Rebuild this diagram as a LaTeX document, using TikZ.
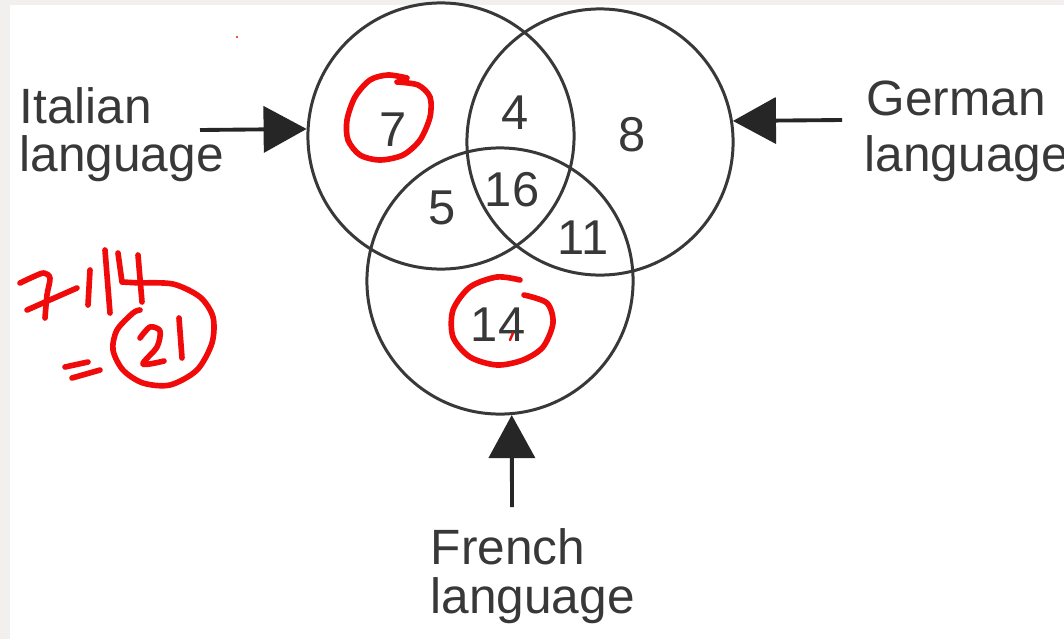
\documentclass[tikz,border=0pt]{standalone}
\usepackage{fontspec}
\setmainfont{Liberation Sans}
\usetikzlibrary{arrows.meta}
\definecolor{ink}{HTML}{383838}
\definecolor{pen}{HTML}{F00A0A}
\definecolor{strip}{HTML}{F1F0EE}
\tikzset{
  setcircle/.style={circle, draw=ink, line width=0.85pt, minimum size=2.66cm, inner sep=0pt},
  num/.style={text=ink, inner sep=0pt, font=\fontsize{13.9}{14}\selectfont},
  lab/.style={text=ink, inner sep=0pt, anchor=base west, font=\fontsize{14.1}{14}\selectfont},
  pointer/.style={draw=black!85, line width=1.1pt, -{Triangle[length=0.43cm, width=0.46cm]}},
  handink/.style={draw=pen, line width=1.6pt, line cap=round, line join=round}
}
\begin{document}
\begin{tikzpicture}[x=0.01cm, y=-0.01cm]
\useasboundingbox (0,0) rectangle (1064,639);
\clip (0,0) rectangle (1064,639);
\fill[white] (0,0) rectangle (1064,639);
\fill[strip] (0,0) rectangle (1064,5);
\fill[strip] (0,0) rectangle (10,639);

% circles
\node[setcircle] (italian) at (441,136) {};
\node[setcircle] (german) at (600,142) {};
\node[setcircle] (french) at (500,281) {};

% numbers
\node[num] (n7) at (393,130) {7};
\node[num] (n4) at (515,113) {4};
\node[num] (n8) at (632,135) {8};
\node[num] (n5) at (442,208) {5};
\node[num] (n16) at (512,190) {16};
\node[num] (n11) at (583,238) {11};
\node[num] (n14) at (498,325) {14};

% labels
\node[lab] (itl1) at (19,123) {Italian};
\node[lab] (itl2) at (19,171) {language};
\node[lab] (gel1) at (866,115) {German};
\node[lab] (gel2) at (864,171) {language};
\node[lab] (frl1) at (430,564) {French};
\node[lab] (frl2) at (430,613) {language};

% arrows
\coordinate (ita0) at (200,130);
\coordinate (ger0) at (842,120);
\coordinate (fre0) at (512,507);
\draw[pointer] (ita0) -- (italian.177);
\draw[pointer] (ger0) -- (german.9.5);
\draw[pointer] (fre0) -- (french.-85);

% red handwriting
\draw[handink] plot[smooth] coordinates {(397,82) (418,85) (430,97) (430,117) (420,140) (403,155) (380,160) (360,155) (348,140) (347,120) (355,97) (370,80) (388,75) (407,78)};
\draw[handink] plot[smooth] coordinates {(520,280) (497,277) (470,287) (453,310) (453,337) (470,357) (497,365) (523,360) (543,347) (553,323) (547,303) (524,295)};
\draw[handink, line width=0.7pt] (513,333) -- (510,340);
\fill[pen] (237,37) circle (1.2);

% 7+14 = 21
\draw[handink] plot[smooth] coordinates {(20,283) (35,276) (44,273) (50,278) (47,295) (45,318)};
\draw[handink] (27,310) -- (77,288);
\draw[handink] (90,270) -- (88,305);
\draw[handink] (105,250) -- (110,313);
\draw[handink] (118,253) -- (122,282) -- (140,283);
\draw[handink] (138,255) -- (142,302);
\draw[handink] plot[smooth] coordinates {(140,283) (173,284) (200,297) (213,317) (212,343) (197,370) (170,385) (143,383) (123,370) (113,350) (117,330) (133,313) (140,310)};
\draw[handink] plot[smooth] coordinates {(140,338) (150,327) (160,331) (157,347) (143,364) (164,361)};
\draw[handink] (179,318) -- (182,358);
\draw[handink] (65,367) -- (88,362);
\draw[handink] (72,378) -- (100,370);
\end{tikzpicture}
\end{document}
